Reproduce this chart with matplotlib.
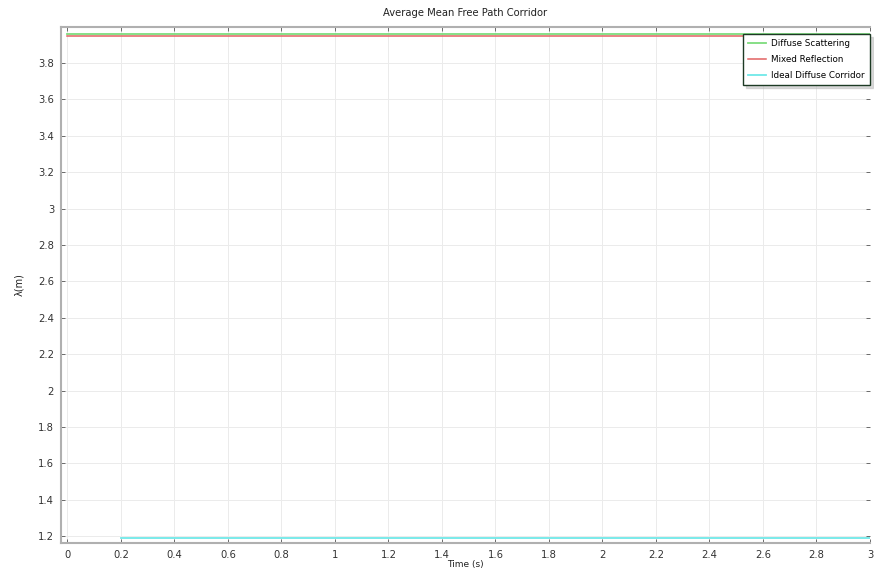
import matplotlib.pyplot as plt
from matplotlib.ticker import MultipleLocator, FuncFormatter

# mean free path over time for each corridor model
t_diffuse = [0.0, 3.0]
mfp_diffuse = [3.957, 3.957]

t_mixed = [0.0, 3.0]
mfp_mixed = [3.950, 3.950]

t_ideal = [0.2, 3.0]
mfp_ideal = [1.19, 1.19]

labels = ['Diffuse Scattering', 'Mixed Reflection', 'Ideal Diffuse Corridor']
colors = ['#7ddc7d', '#e26262', '#6fe8e8']

plt.rcParams['font.family'] = 'DejaVu Sans'
plt.rcParams['font.size'] = 6.5

fig = plt.figure(figsize=(8.74, 5.76), dpi=100)
ax = fig.add_axes([61/874, 1 - 543/576, (870-61)/874, (543-27)/576])

ax.plot(t_diffuse, mfp_diffuse, color=colors[0], lw=1.3, label=labels[0])
ax.plot(t_mixed, mfp_mixed, color=colors[1], lw=1.1, label=labels[1])
ax.plot(t_ideal, mfp_ideal, color=colors[2], lw=1.3, label=labels[2])

ax.set_xlim(-0.024, 3.0)
ax.set_ylim(1.162, 3.998)
ax.xaxis.set_major_locator(MultipleLocator(0.2))
ax.yaxis.set_major_locator(MultipleLocator(0.2))
fmt = FuncFormatter(lambda v, p: '%g' % round(v, 3))
ax.xaxis.set_major_formatter(fmt)
ax.yaxis.set_major_formatter(fmt)

ax.grid(True, color='#ebebeb', lw=0.7)
ax.set_axisbelow(True)
ax.tick_params(direction='in', length=3, width=0.6, color='#555555',
               labelcolor='#333333', labelsize=7.2, top=True, right=True, pad=5)
for side in ['left', 'bottom', 'top']:
    ax.spines[side].set_color('#b0b0b0')
    ax.spines[side].set_linewidth(1.5)
ax.spines['right'].set_visible(False)

ax.set_title('Average Mean Free Path Corridor', fontsize=7.2, color='#222222', pad=8)
ax.set_xlabel('Time (s)', fontsize=6.5, color='#222222', labelpad=0)
ax.set_ylabel('λ(m)', fontsize=7, color='#222222', labelpad=10)

leg = ax.legend(loc='upper right', bbox_to_anchor=(1.0, 0.986), borderaxespad=0,
                fontsize=6.3, frameon=True, fancybox=False,
                shadow={'color': '#b8b8b8', 'ox': 2, 'oy': -2},
                handlelength=2.0, borderpad=0.6, labelspacing=0.75,
                handletextpad=0.6)
leg.get_frame().set_edgecolor('#1d3a24')
leg.get_frame().set_linewidth(1.0)

plt.savefig('out.png', dpi=100)
